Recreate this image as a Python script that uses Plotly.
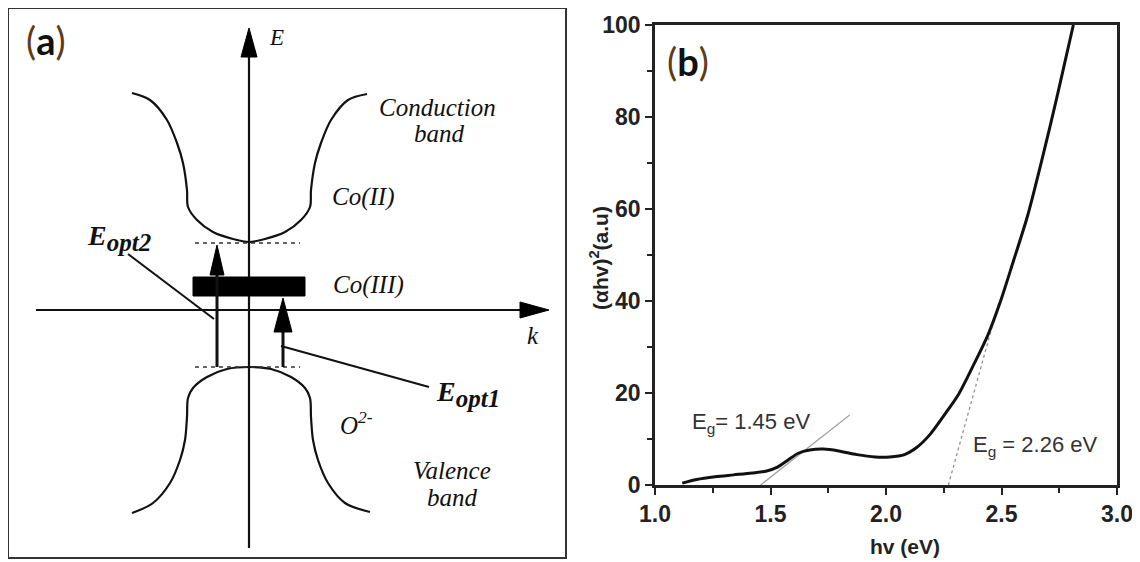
import plotly.graph_objects as go

# The page body adds an 8 px margin, so the figure is laid out 8 px smaller
# and all target pixel positions are shifted by that offset.
OFF = 8
W, H = 1140 - OFF, 562 - OFF

def px(x):
    return min(max((x - OFF) / W, 0.0), 1.0)

def py(y):
    return min(max(1.0 - (y - OFF) / H, 0.0), 1.0)

# ---------------- Panel (b): Tauc plot data ----------------
hv = [1.118, 1.18, 1.26, 1.34, 1.42, 1.48, 1.53, 1.575, 1.62, 1.67, 1.73, 1.795,
      1.874, 1.953, 2.016, 2.08, 2.134, 2.189, 2.252, 2.315, 2.378, 2.441, 2.496,
      2.551, 2.614, 2.677, 2.74, 2.811]
ahv2 = [0.4, 1.2, 1.8, 2.2, 2.6, 3.0, 3.9, 5.4, 6.9, 7.6, 7.8, 7.4,
        6.6, 6.1, 6.1, 6.6, 8.2, 10.9, 15.2, 19.8, 26.0, 32.6, 40.0,
        48.6, 58.7, 71.1, 84.3, 100.0]
fit1_x = [1.457, 1.843]
fit1_y = [0.0, 15.2]
fit2_x = [2.27, 2.488]
fit2_y = [0.0, 39.6]
x_tickvals = [1.0, 1.5, 2.0, 2.5, 3.0]
x_ticktext = ["1.0", "1.5", "2.0", "2.5", "3.0"]
x_minor = [1.25, 1.75, 2.25, 2.75]
y_tickvals = [0, 20, 40, 60, 80, 100]
y_ticktext = ["0", "20", "40", "60", "80", "100"]
y_minor = [10, 30, 50, 70, 90]

# ---------------- Panel (a): schematic band diagram (k, E units) ----------------
cb_k = [-117, -99, -82, -72, -66, -62, -61, -52, -36, -16, 0, 16, 36, 52, 61, 62, 66, 72, 82, 99, 118]
cb_E = [217, 210, 190, 167, 147, 120, 103, 90, 78, 71, 68, 71, 78, 90, 103, 120, 147, 167, 190, 210, 216]
vb_k = [-117, -96, -79, -69, -64, -62, -61, -56, -42, -22, 0, 22, 42, 56, 61, 62, 64, 69, 79, 96, 121]
vb_E = [-203, -193, -173, -150, -130, -107, -88, -78, -67, -59, -57, -59, -67, -78, -88, -107, -130, -150, -173, -193, -202]
cb_edge_k = [-54, 51]
cb_edge_E = [67, 67]
vb_edge_k = [-54, 51]
vb_edge_E = [-57, -57]
co3_k = [-56, 56, 56, -56, -56]
co3_E = [14, 14, 33, 33, 14]
k_axis_k = [-213, 272]
k_axis_E = [0, 0]
k_head_k = [271, 300, 271, 271]
k_head_E = [8, 0, -8, 8]
e_axis_k = [0, 0]
e_axis_E = [-238, 255]
e_head_k = [-8, 0, 8, -8]
e_head_E = [253, 282, 253, 253]
opt2_k = [-32, -32]
opt2_E = [-57, 36]
opt2_head_k = [-39, -32, -25, -39]
opt2_head_E = [35, 65, 35, 35]
opt1_k = [34, 34]
opt1_E = [-57, -21]
opt1_head_k = [25, 34, 43, 25]
opt1_head_E = [-22, 12, -22, -22]
lead2_k = [-121, -35]
lead2_E = [56, -9]
lead1_k = [32, 180]
lead1_E = [-36, -77]

fig = go.Figure()

# ---- panel (a) traces ----
def line_a(k, e, width=2.0, dash=None, shape="linear", color="#111"):
    fig.add_trace(go.Scatter(x=k, y=e, mode="lines", xaxis="x2", yaxis="y2",
                             line=dict(color=color, width=width, dash=dash, shape=shape, smoothing=0.9),
                             hoverinfo="skip"))

def poly_a(k, e):
    fig.add_trace(go.Scatter(x=k, y=e, mode="lines", xaxis="x2", yaxis="y2", fill="toself",
                             fillcolor="#000", line=dict(color="#000", width=1), hoverinfo="skip"))

line_a(cb_k, cb_E, width=2.2, shape="spline")
line_a(vb_k, vb_E, width=2.2, shape="spline")
line_a(cb_edge_k, cb_edge_E, width=1.5, dash="4px,4px", color="#333")
line_a(vb_edge_k, vb_edge_E, width=1.5, dash="4px,4px", color="#333")
line_a(k_axis_k, k_axis_E, width=2.2)
poly_a(k_head_k, k_head_E)
line_a(e_axis_k, e_axis_E, width=2.2)
poly_a(e_head_k, e_head_E)
poly_a(co3_k, co3_E)
line_a(opt2_k, opt2_E, width=3)
poly_a(opt2_head_k, opt2_head_E)
line_a(opt1_k, opt1_E, width=3)
poly_a(opt1_head_k, opt1_head_E)
line_a(lead2_k, lead2_E, width=2)
line_a(lead1_k, lead1_E, width=2)

# ---- panel (b) traces ----
fig.add_trace(go.Scatter(x=fit1_x, y=fit1_y, mode="lines", line=dict(color="#a0a0a0", width=1.2),
                         hoverinfo="skip"))
fig.add_trace(go.Scatter(x=fit2_x, y=fit2_y, mode="lines", line=dict(color="#909090", width=1.3, dash="dot"),
                         hoverinfo="skip"))
fig.add_trace(go.Scatter(x=hv, y=ahv2, mode="lines", line=dict(color="#111", width=3, shape="spline", smoothing=0.8),
                         hoverinfo="skip"))

SANS = "Liberation Sans, Arial, sans-serif"
SERIF = "Liberation Serif, Times New Roman, serif"
tickfont = dict(family=SANS, size=23, color="#222", weight="bold")

fig.update_layout(
    width=W, height=H, margin=dict(l=0, r=0, t=0, b=0, autoexpand=False),
    paper_bgcolor="white", plot_bgcolor="white", showlegend=False,
    xaxis=dict(domain=[px(655), px(1117)], range=[1.0, 3.0], anchor="y", automargin=False,
               tickmode="array", tickvals=x_tickvals, ticktext=x_ticktext,
               ticks="outside", ticklen=7, tickwidth=2, tickcolor="#222",
               minor=dict(tickvals=x_minor, ticks="outside", ticklen=5, tickwidth=2, tickcolor="#222"),
               showline=True, linewidth=2.5, linecolor="#222", mirror=True,
               showgrid=False, zeroline=False, tickfont=tickfont),
    yaxis=dict(domain=[py(485), py(25)], range=[0, 100], anchor="x", automargin=False,
               tickmode="array", tickvals=y_tickvals, ticktext=y_ticktext,
               ticks="outside", ticklen=7, tickwidth=2, tickcolor="#222",
               minor=dict(tickvals=y_minor, ticks="outside", ticklen=5, tickwidth=2, tickcolor="#222"),
               showline=True, linewidth=2.5, linecolor="#222", mirror=True,
               showgrid=False, zeroline=False, tickfont=tickfont),
    xaxis2=dict(domain=[px(9), px(565)], range=[-240, 316], anchor="y2", automargin=False,
                showline=True, linewidth=2, linecolor="#333", mirror=True,
                showticklabels=False, ticks="", showgrid=False, zeroline=False),
    yaxis2=dict(domain=[py(557), py(9)], range=[-247, 301], anchor="x2", automargin=False,
                showline=True, linewidth=2, linecolor="#333", mirror=True,
                showticklabels=False, ticks="", showgrid=False, zeroline=False),
)

ann = []
def a_text(x, y, text, size=25, family=SERIF, color="#111", xanchor="center"):
    ann.append(dict(x=x, y=y, xref="x2", yref="y2", text=text, showarrow=False,
                    font=dict(family=family, size=size, color=color), xanchor=xanchor, yanchor="middle"))

a_text(-203, 270, "<span style='color:#5c3d17'>(</span><b>a</b><span style='color:#5c3d17'>)</span>",
       size=38, family="Lato, Open Sans, sans-serif")
a_text(27, 273, "<i>E</i>", size=23)
a_text(284, -25, "<i>k</i>", size=25)
a_text(188, 203, "<i>Conduction</i>", size=25)
a_text(190, 177, "<i>band</i>", size=25)
a_text(114, 113, "<i>Co(II)</i>", size=25)
a_text(119, 25, "<i>Co(III)</i>", size=25)
a_text(107, -113, "<i>O<sup>2-</sup></i>", size=25)
a_text(203, -160, "<i>Valence</i>", size=25)
a_text(203, -187, "<i>band</i>", size=25)
a_text(-130, 72, "<b><i>E</i></b><sub><b><i><span style='font-size:25px'>opt2</span></i></b></sub>", size=28)
a_text(219, -84, "<b><i>E</i></b><sub><b><i><span style='font-size:25px'>opt1</span></i></b></sub>", size=28)

# panel (b) texts
ann.append(dict(x=1.143, y=92.2, xref="x", yref="y", showarrow=False,
                text="<span style='color:#5c3d17'>(</span><b>b</b><span style='color:#5c3d17'>)</span>",
                font=dict(family="Lato, Open Sans, sans-serif", size=38, color="#111")))
ann.append(dict(x=1.15, y=13.5, xref="x", yref="y", showarrow=False, xanchor="left", yanchor="middle",
                text="E<sub>g</sub>= 1.45 eV", font=dict(family=SANS, size=22, color="#333")))
ann.append(dict(x=2.37, y=8.5, xref="x", yref="y", showarrow=False, xanchor="left", yanchor="middle",
                text="E<sub>g</sub> = 2.26 eV", font=dict(family=SANS, size=22, color="#333")))
ann.append(dict(x=px(905), y=py(546), xref="paper", yref="paper", showarrow=False,
                xanchor="center", yanchor="middle", text="<b>hv (eV)</b>",
                font=dict(family=SANS, size=21, color="#222")))
ann.append(dict(x=px(599), y=py(258), xref="paper", yref="paper", showarrow=False,
                xanchor="center", yanchor="middle", textangle=-90, text="<b>(αhv)<sup>2</sup>(a.u)</b>",
                font=dict(family=SANS, size=21, color="#222")))

fig.update_layout(annotations=ann)
fig.write_html("out.html")
